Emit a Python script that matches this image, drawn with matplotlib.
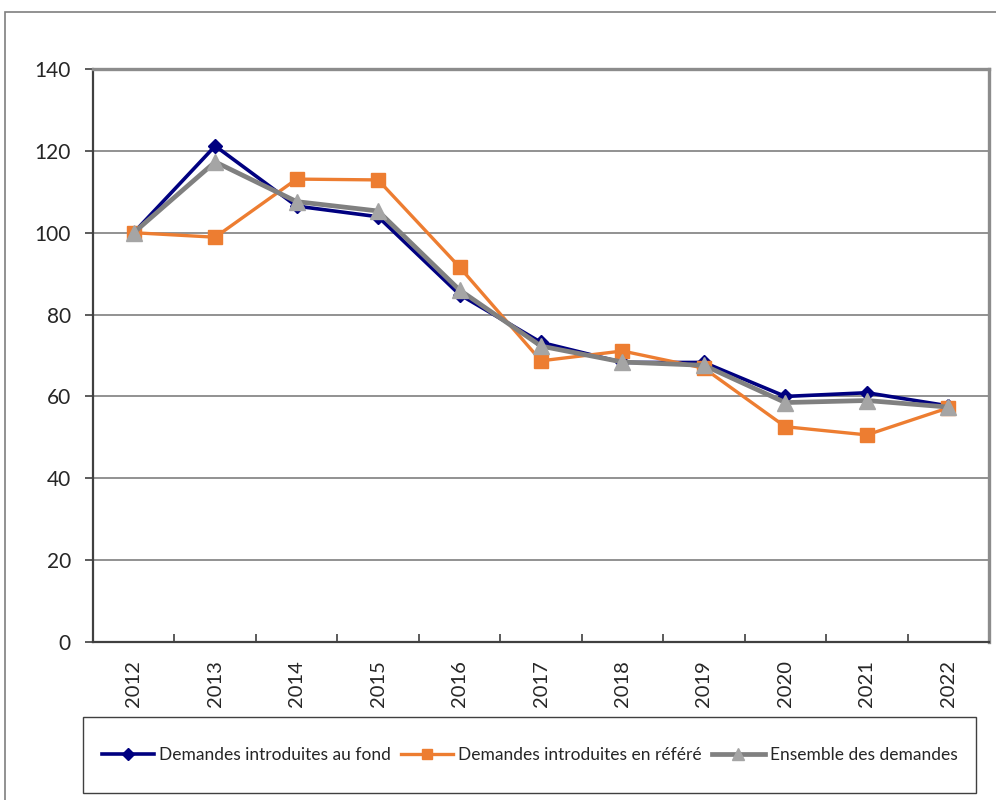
import matplotlib
matplotlib.use("Agg")
import matplotlib.pyplot as plt
from matplotlib.patches import Rectangle

plt.rcParams['font.family'] = ['Lato', 'DejaVu Sans']

years = ["2012", "2013", "2014", "2015", "2016", "2017", "2018", "2019", "2020", "2021", "2022"]
fond = [100, 121.2, 106.5, 103.9, 84.9, 73.2, 68.3, 68.3, 60.0, 60.9, 57.7]
refere = [100, 98.9, 113.1, 112.9, 91.6, 68.7, 71.1, 66.9, 52.6, 50.6, 57.2]
ensemble = [100, 117.3, 107.6, 105.3, 86.0, 72.3, 68.4, 67.6, 58.5, 59.0, 57.4]
labels = ["Demandes introduites au fond", "Demandes introduites en référé", "Ensemble des demandes"]
yticks = [0, 20, 40, 60, 80, 100, 120, 140]

TEXT = "#262626"
W, H = 996, 800
fig = plt.figure(figsize=(W / 100, H / 100), dpi=100)
ax = fig.add_axes([93 / W, 1 - 642 / H, (989 - 93) / W, (642 - 69) / H])

x = list(range(len(years)))
ax.plot(x, fond, color="#000080", lw=2.6, marker="D", ms=7.5, mfc="#000080", mec="#000080",
        label=labels[0], zorder=3)
ax.plot(x, refere, color="#ED7D31", lw=2.4, marker="s", ms=9.5, mfc="#ED7D31", mec="#ED7D31",
        label=labels[1], zorder=4)
ax.plot(x, ensemble, color="#808080", lw=3.4, marker="^", ms=11, mfc="#A5A5A5", mec="#A5A5A5",
        label=labels[2], zorder=5)

ax.set_xlim(-0.5, len(years) - 0.5)
ax.set_ylim(0, 140)
ax.set_yticks(yticks)
ax.set_yticklabels([str(v) for v in yticks], fontsize=15, color=TEXT)
ax.yaxis.grid(True, color="#7f7f7f", lw=1.2)
ax.set_axisbelow(True)

ax.set_xticks(x)
ax.set_xticklabels(years, rotation=90, fontsize=14.5, color=TEXT)
ax.tick_params(axis="x", which="major", length=0, pad=13)
ax.set_xticks([i + 0.5 for i in x[:-1]], minor=True)
ax.tick_params(axis="x", which="minor", direction="in", length=6, width=1.2, color="#404040")
ax.tick_params(axis="y", direction="out", length=6, width=1.2, color="#404040", pad=10)

for s in ("left", "bottom"):
    ax.spines[s].set_color("#404040")
    ax.spines[s].set_linewidth(1.6)
for s in ("top", "right"):
    ax.spines[s].set_color("#8c8c8c")
    ax.spines[s].set_linewidth(2.4)

# outer frame of the chart area
fig.add_artist(Rectangle((5 / W, -0.01), 1.02, 1 - 12 / H + 0.01, transform=fig.transFigure,
                         fill=False, edgecolor="#7f7f7f", lw=1.2))

# legend box
fig.add_artist(Rectangle((83 / W, 1 - 793 / H), (976 - 83) / W, (793 - 717) / H,
                         transform=fig.transFigure, fill=False, edgecolor="#404040", lw=1.0))
handles, labs = ax.get_legend_handles_labels()
leg = fig.legend(handles, labs, loc="center", bbox_to_anchor=((83 + 976) / 2 / W, 1 - 755 / H),
                 ncol=3, frameon=False, fontsize=12.5, handlelength=3.0, handletextpad=0.3,
                 columnspacing=0.6, markerscale=0.8)
for t in leg.get_texts():
    t.set_color(TEXT)

fig.savefig("out.png", dpi=100)
